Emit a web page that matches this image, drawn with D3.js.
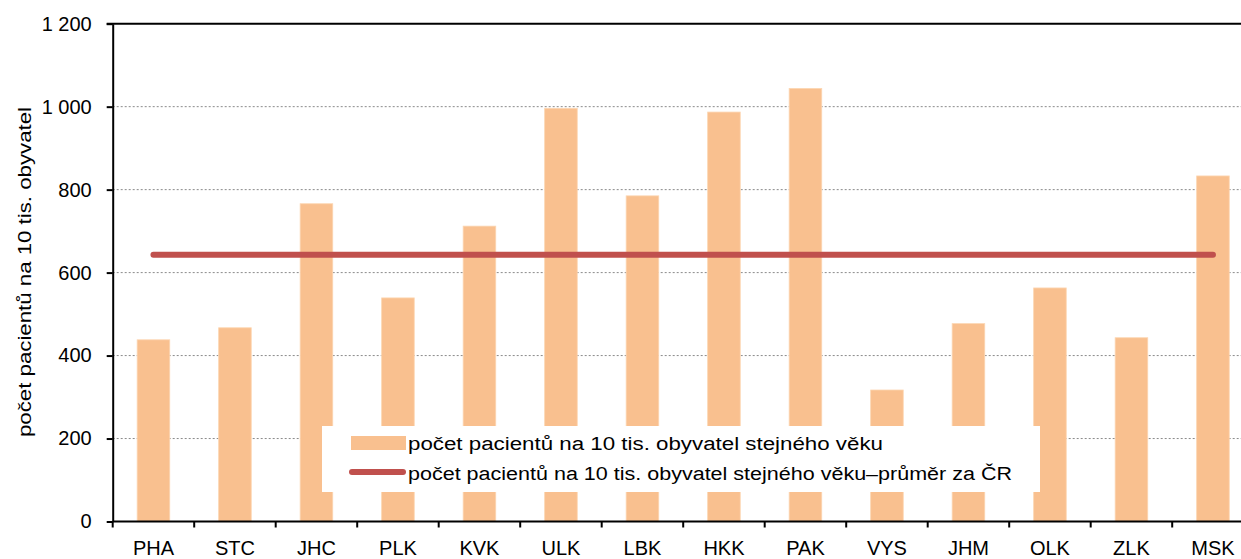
<!DOCTYPE html>
<html><head><meta charset="utf-8">
<script src="https://cdn.jsdelivr.net/npm/d3@7"></script>
<style>body{margin:0;background:#fff}svg{display:block;font-family:"Liberation Sans",Arial,sans-serif}</style>
</head><body><svg id="c" width="1241" height="559"></svg>
<script>
const categories = ["PHA","STC","JHC","PLK","KVK","ULK","LBK","HKK","PAK","VYS","JHM","OLK","ZLK","MSK"];
const patients = [438,467,766,539,712,996,785,987,1044,317,477,563,443,833];
const czAverage = [643,643,643,643,643,643,643,643,643,643,643,643,643,643];
const yTicks = [0,200,400,600,800,1000,1200];
const yTickLabels = ["0","200","400","600","800","1 000","1 200"];
const seriesNames = ["počet pacientů na 10 tis. obyvatel stejného věku","počet pacientů na 10 tis. obyvatel stejného věku–průměr za ČR"];
const yTitle = "počet pacientů na 10 tis. obyvatel";

const svg = d3.select("#c");
const x0 = 112.7, bandW = 81.5;
const x = d3.scaleBand().domain(categories).range([x0, x0 + bandW*categories.length]).paddingInner(0).paddingOuter(0);
const y = d3.scaleLinear().domain([0,1200]).range([521.5,23.7]);

// gridlines
svg.append("g").selectAll("line").data(yTicks.filter(d=>d>0 && d<1200)).join("line")
  .attr("x1",x0).attr("x2",1241).attr("y1",d=>y(d)).attr("y2",d=>y(d))
  .attr("stroke","#8a8a8a").attr("stroke-width",1).attr("stroke-dasharray","2,2");
// top border line
svg.append("line").attr("x1",x0-6).attr("x2",1241).attr("y1",y(1200)).attr("y2",y(1200))
  .attr("stroke","#000").attr("stroke-width",2);

// bars
const bw = bandW*0.4;
svg.append("g").selectAll("rect").data(patients).join("rect")
  .attr("x",(d,i)=>x(categories[i])+x.bandwidth()/2-bw/2)
  .attr("width",bw)
  .attr("y",d=>y(d)).attr("height",d=>y(0)-y(d))
  .attr("fill","#F9C08F").attr("stroke","#FCD6B2").attr("stroke-width",0.8);

// average line
const line = d3.line().x((d,i)=>x(categories[i])+x.bandwidth()/2).y(d=>y(d));
svg.append("path").datum(czAverage).attr("d",line).attr("fill","none")
  .attr("stroke","#C0504D").attr("stroke-width",6).attr("stroke-linecap","round");

// y axis
const yAxis = d3.axisLeft(y).tickValues(yTicks).tickSize(6).tickSizeOuter(0).tickPadding(15)
  .tickFormat((d,i)=>yTickLabels[i]);
const gy = svg.append("g").attr("transform",`translate(${x0},0)`).call(yAxis);
gy.select(".domain").attr("stroke","#000").attr("stroke-width",2);
gy.selectAll(".tick line").attr("stroke","#000").attr("stroke-width",2);
gy.selectAll(".tick text").attr("font-size",20).attr("fill","#000").attr("font-family","Liberation Sans, Arial, sans-serif");

// x axis
const xAxis = d3.axisBottom(x).tickSize(0).tickPadding(19);
const gx = svg.append("g").attr("transform",`translate(0,${y(0)})`).call(xAxis);
gx.select(".domain").remove();
svg.append("line").attr("x1",x0).attr("x2",1241).attr("y1",y(0)).attr("y2",y(0)).attr("stroke","#000").attr("stroke-width",2);
gx.selectAll(".tick text").attr("font-size",20).attr("fill","#000").attr("font-family","Liberation Sans, Arial, sans-serif");
svg.append("g").selectAll("line").data(categories.map((c,i)=>i)).join("line")
  .attr("x1",(d)=>x(categories[d])).attr("x2",d=>x(categories[d]))
  .attr("y1",y(0)).attr("y2",y(0)+6).attr("stroke","#000").attr("stroke-width",2);

// y title
svg.append("text").attr("transform","translate(31,272) rotate(-90)")
  .attr("text-anchor","middle").attr("font-size",18).attr("fill","#000")
  .attr("textLength",330).attr("lengthAdjust","spacingAndGlyphs").text(yTitle);

// legend
const lg = svg.append("g");
lg.append("rect").attr("x",322).attr("y",426).attr("width",718).attr("height",66).attr("fill","#fff");
lg.append("rect").attr("x",351).attr("y",436).attr("width",55).attr("height",14).attr("fill","#F9C08F");
lg.append("line").attr("x1",352).attr("x2",403).attr("y1",472).attr("y2",472)
  .attr("stroke","#C0504D").attr("stroke-width",6).attr("stroke-linecap","round");
lg.append("text").attr("x",408).attr("y",450).attr("font-size",18).attr("fill","#000")
  .attr("textLength",475).attr("lengthAdjust","spacingAndGlyphs").text(seriesNames[0]);
lg.append("text").attr("x",408).attr("y",480).attr("font-size",18).attr("fill","#000")
  .attr("textLength",604).attr("lengthAdjust","spacingAndGlyphs").text(seriesNames[1]);
</script></body></html>
